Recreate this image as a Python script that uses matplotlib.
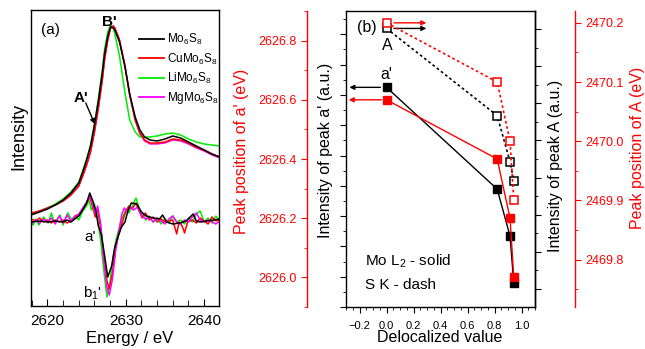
import numpy as np
import matplotlib.pyplot as plt
from matplotlib.ticker import MultipleLocator

plt.rcParams['font.family'] = ['Liberation Sans', 'DejaVu Sans']
plt.rcParams['mathtext.fontset'] = 'custom'
plt.rcParams['mathtext.rm'] = 'Liberation Sans'
plt.rcParams['mathtext.it'] = 'Liberation Sans:italic'
plt.rcParams['mathtext.bf'] = 'Liberation Sans:bold'

RED = '#ff0000'
GREEN = '#00ee00'
MAGENTA = '#ff00ff'

# ---- panel (a): S K-edge spectra (a.u.) ----
e_spec = [2617.9, 2619, 2620, 2621, 2622, 2623, 2624, 2624.5, 2625, 2625.5, 2626,
          2626.5, 2627, 2627.3, 2627.7, 2628.05, 2628.4, 2628.6, 2629.2, 2629.9,
          2630.5, 2631.2, 2631.8, 2632.4, 2633.1, 2634, 2635, 2636, 2637, 2638,
          2639, 2640, 2641, 2642]
spec_mo = [91, 94, 97, 101, 106, 113, 123, 134, 146, 160, 181, 205, 233, 253, 270,
           279, 278, 276, 264, 239, 212, 189, 176, 169, 166, 165, 167, 170, 168,
           164, 160, 156, 152, 149]
spec_cu = [93, 95, 98, 101, 105, 111, 120, 130, 141, 154, 174, 198, 226, 247, 266,
           278, 280, 278, 266, 240, 211, 186, 173, 166, 163, 163, 164, 167, 166,
           163, 159, 156, 152, 149]
spec_li = [92, 95, 98, 102, 107, 114, 124, 135, 147, 161, 182, 207, 236, 257, 274,
           281, 278, 272, 250, 213, 186, 174, 169, 169, 169, 170, 172, 173, 171,
           167, 164, 162, 161, 160]
spec_mg = [92, 95, 98, 101, 105, 111, 120, 130, 141, 154, 174, 198, 226, 247, 266,
           278, 280, 278, 266, 240, 211, 186, 172, 165, 162, 162, 163, 166, 165,
           162, 158, 155, 151, 148]

# derivative spectra (a.u.)
e_der_mo = [2617.9, 2619, 2620, 2621, 2622, 2622.5, 2623, 2623.5, 2624, 2624.5, 2625,
            2625.4, 2625.8, 2626.2, 2626.5, 2626.9, 2627.3, 2627.7, 2628.2, 2628.6,
            2629.0, 2629.45, 2629.9, 2630.3, 2630.7, 2631.4, 2632.0, 2632.6, 2633.5,
            2634.3, 2634.7, 2635.2, 2636.0, 2636.9, 2637.7, 2638.6, 2639.0, 2639.5,
            2640.3, 2641.2, 2642]
der_mo = [84, 85, 84, 85, 84, 86, 84, 87, 90, 96, 103, 113, 105, 94, 80, 71, 50, 29,
          40, 59, 69, 79, 84, 96, 103, 102, 94, 90, 88, 87, 91, 84, 82, 83, 85, 92,
          85, 84, 85, 86, 87]
e_der_li = [2617.9, 2618.2, 2618.5, 2618.9, 2619.5, 2620.1, 2620.5, 2620.9, 2621.6,
            2622.0, 2622.6, 2623.1, 2623.5, 2624.0, 2624.5, 2625.0, 2625.3, 2625.6,
            2626.0, 2626.4, 2626.8, 2627.2, 2627.6, 2628.0, 2628.4, 2628.8, 2629.2,
            2629.6, 2630.0, 2630.4, 2630.8, 2631.3, 2631.7, 2632.1, 2632.6, 2633.0,
            2633.5, 2634.0, 2634.5, 2635.0, 2635.5, 2636.0, 2636.5, 2637.0, 2637.5,
            2638.0, 2638.5, 2639.0, 2639.5, 2640.0, 2640.5, 2641.0, 2641.5, 2642]
der_li = [83, 81, 87, 81, 89, 83, 93, 83, 91, 81, 93, 86, 90, 86, 95, 100, 106, 96,
          102, 88, 65, 35, 9, 25, 50, 68, 79, 89, 96, 93, 100, 108, 98, 92, 86, 90,
          84, 88, 82, 87, 83, 90, 84, 86, 82, 88, 84, 92, 95, 84, 88, 83, 90, 85]
e_der_cu = [2617.9, 2618.5, 2619, 2619.5, 2620, 2620.5, 2621, 2621.5, 2622, 2622.5,
            2623, 2623.5, 2624, 2624.5, 2625, 2625.4, 2625.8, 2626.1, 2626.4, 2626.8,
            2627.2, 2627.6, 2627.9, 2628.3, 2628.7, 2629.1, 2629.5, 2630.0, 2630.4,
            2630.8, 2631.3, 2631.7, 2632.1, 2632.5, 2633.0, 2633.5, 2634.0, 2634.5,
            2635.0, 2635.5, 2636.0, 2636.5, 2636.8, 2637.2, 2637.5, 2637.9, 2638.5,
            2639.0, 2639.5, 2640.0, 2640.5, 2641.0, 2641.5, 2642]
der_cu = [87, 85, 88, 84, 86, 83, 86, 84, 86, 83, 85, 88, 91, 97, 103, 109, 98, 89,
          97, 78, 48, 25, 17, 33, 58, 72, 82, 95, 100, 97, 103, 95, 88, 93, 86, 89,
          84, 87, 84, 85, 86, 72, 84, 80, 73, 84, 86, 83, 88, 85, 82, 89, 85, 86]
e_der_mg = [2617.9, 2618.5, 2619, 2619.5, 2620, 2620.5, 2621, 2621.5, 2622, 2622.5,
            2623, 2623.5, 2624, 2624.5, 2625, 2625.4, 2625.8, 2626.1, 2626.4, 2626.8,
            2627.2, 2627.6, 2627.9, 2628.3, 2628.7, 2629.1, 2629.5, 2629.8, 2630.2,
            2630.6, 2631.0, 2631.5, 2632.0, 2632.5, 2633.0, 2633.5, 2634.0, 2634.5,
            2635.0, 2635.5, 2636.0, 2636.5, 2637.0, 2637.5, 2638.0, 2638.5, 2639.0,
            2639.5, 2640.0, 2640.5, 2641.0, 2641.5, 2642]
der_mg = [82, 86, 83, 87, 84, 88, 82, 90, 83, 91, 85, 90, 92, 98, 104, 110, 101, 92,
          100, 82, 45, 18, 11, 27, 55, 74, 92, 98, 94, 99, 96, 99, 91, 87, 89, 84, 88,
          85, 82, 87, 90, 84, 82, 86, 84, 89, 93, 86, 84, 86, 84, 82, 85]

# ---- panel (b) ----
deloc = [0.0, 0.82, 0.915, 0.943]
int_a_prime = [0.725, 0.389, 0.234, 0.078]          # Intensity of peak a' (a.u.)
pos_a_prime = [2626.6, 2626.4, 2626.2, 2626.0]      # Peak position of a' (eV)
int_A = [0.802, 0.567, 0.442, 0.391]                # Intensity of peak A (a.u.)
pos_A = [2470.2, 2470.1, 2470.0, 2469.9]            # Peak position of A (eV)

W, H = 645, 349
fig = plt.figure(figsize=(W / 100, H / 100), dpi=100)


def fpos(x, y):
    return x / W, 1 - y / H


# ---------------- panel (a) ----------------
ax_a = fig.add_axes([31 / W, 43 / H, 188 / W, 296 / H])
ax_a.plot(e_spec, spec_mg, color=MAGENTA, lw=1)
ax_a.plot(e_spec, spec_li, color=GREEN, lw=1.1)
ax_a.plot(e_spec, spec_cu, color=RED, lw=1.1)
ax_a.plot(e_spec, spec_mo, color='k', lw=1.1)
ax_a.plot(e_der_li, der_li, color=GREEN, lw=1.1)
ax_a.plot(e_der_cu, der_cu, color=RED, lw=1.1)
ax_a.plot(e_der_mg, der_mg, color=MAGENTA, lw=1.1)
ax_a.plot(e_der_mo, der_mo, color='k', lw=1.1)

# legend with proxy lines
names = [r'Mo$_6$S$_8$', r'CuMo$_6$S$_8$', r'LiMo$_6$S$_8$', r'MgMo$_6$S$_8$']
cols = ['k', RED, GREEN, MAGENTA]
handles = [plt.Line2D([], [], color=c, lw=1.3) for c in cols]
ax_a.legend(handles, names, loc='upper left', bbox_to_anchor=(0.575, 0.925),
            frameon=False, fontsize=8.5, handlelength=2.1, handletextpad=0.25,
            labelspacing=0.35, borderpad=0, borderaxespad=0)

ax_a.set_xlim(2617.9, 2641.9)
ax_a.set_ylim(0, 296)
ax_a.set_yticks([])
ax_a.xaxis.set_major_locator(MultipleLocator(10))
ax_a.xaxis.set_minor_locator(MultipleLocator(2))
ax_a.tick_params(axis='x', which='both', direction='in', top=False, labelsize=11,
                 pad=6)
ax_a.tick_params(axis='x', which='major', length=5)
ax_a.tick_params(axis='x', which='minor', length=4)
for s in ax_a.spines.values():
    s.set_linewidth(1.0)

ax_a.text(2620.4, 276, '(a)', fontsize=11, ha='center', va='center')
ax_a.text(2627.96, 284, "B'", fontsize=11, fontweight='bold', ha='center', va='center')
ax_a.text(2624.25, 208, "A'", fontsize=11, fontweight='bold', ha='center', va='center')
ax_a.annotate('', xy=(2626.04, 182), xytext=(2624.89, 203),
              arrowprops=dict(arrowstyle='-|>', color='k', lw=1, mutation_scale=7,
                              shrinkA=0, shrinkB=0))
ax_a.text(2625.4, 69, "a'", fontsize=11, ha='center', va='center')
ax_a.text(2625.8, 13, r"b$_1$'", fontsize=11, ha='center', va='center')

fig.text(*fpos(18.5, 136), 'Intensity', rotation=90, fontsize=13, ha='center', va='center')
fig.text(*fpos(129.3, 339), 'Energy / eV', fontsize=12, ha='center', va='center')

# ---------------- panel (b) ----------------
ax_b = fig.add_axes([346 / W, 42 / H, 189 / W, 296 / H])
ax_ra = ax_b.twinx()
ax_A = ax_b.twinx()
ax_rA = ax_b.twinx()

ms = 5.5
ax_b.plot(deloc, int_a_prime, 's-', color='k', ms=ms, lw=1, zorder=3)
ax_ra.plot(deloc, pos_a_prime, 's-', color=RED, ms=ms, lw=1, zorder=3)
ax_A.plot(deloc, int_A, 's', ls=(0, (1.6, 1.6)), color='k', mfc='white', mec='k',
          mew=1.1, ms=ms, lw=1.2)
ax_rA.plot(deloc, pos_A, 's', ls=(0, (1.6, 1.6)), color=RED, mfc='white', mec=RED,
           mew=1.1, ms=ms, lw=1.2)

arrow = dict(arrowstyle='-|>', lw=1, mutation_scale=7, shrinkA=0, shrinkB=0)
ax_b.annotate('', xy=(-0.275, int_a_prime[0]), xytext=(-0.045, int_a_prime[0]),
              arrowprops=dict(arrow, color='k'))
ax_ra.annotate('', xy=(-0.28, pos_a_prime[0]), xytext=(-0.038, pos_a_prime[0]),
               arrowprops=dict(arrow, color=RED))
ax_A.annotate('', xy=(0.295, int_A[0]), xytext=(0.055, int_A[0]),
              arrowprops=dict(arrow, color='k'))
ax_rA.annotate('', xy=(0.295, pos_A[0]), xytext=(0.055, pos_A[0]),
               arrowprops=dict(arrow, color=RED))

ax_b.set_xlim(-0.3, 1.1)
ax_b.xaxis.set_major_locator(MultipleLocator(0.2))
ax_b.xaxis.set_minor_locator(MultipleLocator(0.05))
ax_b.set_xticklabels([]) if False else None
ax_b.tick_params(axis='x', which='both', direction='out', top=False, labelsize=8, pad=6)
ax_b.tick_params(axis='x', which='major', length=4)
ax_b.tick_params(axis='x', which='minor', length=2.5)

ax_b.set_ylim(0, 0.977)
ax_b.yaxis.set_major_locator(MultipleLocator(0.1))
ax_b.yaxis.set_minor_locator(MultipleLocator(0.05))
ax_b.tick_params(axis='y', which='both', direction='out', right=False, labelleft=False)
ax_b.tick_params(axis='y', which='major', length=4.5)
ax_b.tick_params(axis='y', which='minor', length=2.5)
for s in ax_b.spines.values():
    s.set_linewidth(1.0)

# red left axis: peak position of a'
ax_ra.set_ylim(2625.9, 2626.9)
for k in ['top', 'bottom', 'right']:
    ax_ra.spines[k].set_visible(False)
ax_ra.spines['left'].set_visible(True)
ax_ra.spines['left'].set_position(('outward', 28.1))
ax_ra.spines['left'].set_color(RED)
ax_ra.spines['left'].set_linewidth(1.0)
ax_ra.yaxis.tick_left()
ax_ra.yaxis.set_major_locator(MultipleLocator(0.2))
ax_ra.yaxis.set_minor_locator(MultipleLocator(0.1))
ax_ra.yaxis.set_major_formatter(plt.FormatStrFormatter('%.1f'))
ax_ra.tick_params(axis='y', which='both', direction='out', colors=RED, labelsize=9, pad=3)
ax_ra.tick_params(axis='y', which='major', length=4.5)
ax_ra.tick_params(axis='y', which='minor', length=2.5)

# black right axis: intensity of peak A
ax_A.set_ylim(0.051, 0.849)
for k in ['top', 'bottom', 'left']:
    ax_A.spines[k].set_visible(False)
ax_A.spines['right'].set_linewidth(1.0)
ax_A.yaxis.set_major_locator(MultipleLocator(0.1))
ax_A.yaxis.set_minor_locator(MultipleLocator(0.05))
ax_A.tick_params(axis='y', which='both', direction='out', labelright=False)
ax_A.tick_params(axis='y', which='major', length=4.5)
ax_A.tick_params(axis='y', which='minor', length=2.5)

# red right axis: peak position of A
ax_rA.set_ylim(2469.72, 2470.22)
for k in ['top', 'bottom', 'left']:
    ax_rA.spines[k].set_visible(False)
ax_rA.spines['right'].set_position(('outward', 28.8))
ax_rA.spines['right'].set_color(RED)
ax_rA.spines['right'].set_linewidth(1.0)
ax_rA.yaxis.set_major_locator(MultipleLocator(0.1))
ax_rA.yaxis.set_minor_locator(MultipleLocator(0.05))
ax_rA.yaxis.set_major_formatter(plt.FormatStrFormatter('%.1f'))
ax_rA.tick_params(axis='y', which='both', direction='out', colors=RED, labelsize=9, pad=3)
ax_rA.tick_params(axis='y', which='major', length=4.5)
ax_rA.tick_params(axis='y', which='minor', length=2.5)

tr = ax_b.transAxes
ax_b.text(0.1095, 0.944, '(b)', transform=tr, fontsize=11.5, ha='center', va='center')
ax_b.text(0.2196, 0.882, 'A', transform=tr, fontsize=11.5, ha='center', va='center')
ax_b.text(0.2116, 0.784, "a'", transform=tr, fontsize=11.5, ha='center', va='center')
ax_b.text(0.1005, 0.154, r'Mo L$_2$ - solid', transform=tr, fontsize=11,
          ha='left', va='center')
ax_b.text(0.1005, 0.0743, 'S K - dash', transform=tr, fontsize=11, ha='left', va='center')

fig.text(*fpos(241.7, 151.7), "Peak position of a' (eV)", rotation=90, fontsize=11.5,
         color=RED, ha='center', va='center')
fig.text(*fpos(325.8, 150.8), "Intensity of peak a' (a.u.)", rotation=90, fontsize=11.5,
         ha='center', va='center')
fig.text(*fpos(555.5, 166.3), 'Intensity of peak A (a.u.)', rotation=90, fontsize=11.5,
         ha='center', va='center')
fig.text(*fpos(637.5, 148.3), 'Peak position of A (eV)', rotation=90, fontsize=11.5,
         color=RED, ha='center', va='center')
fig.text(*fpos(440, 337), 'Delocalized value', fontsize=11.5, ha='center', va='center')

fig.savefig('out.png', dpi=100)
